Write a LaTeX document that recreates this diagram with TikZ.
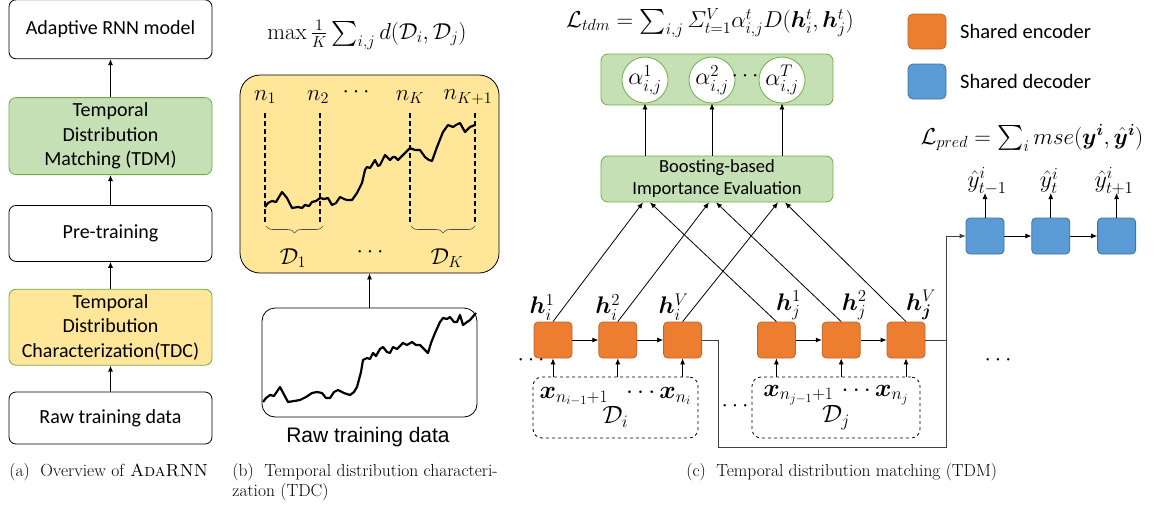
\RequirePackage{fix-cm}
\documentclass[tikz,border=0pt]{standalone}
\usepackage{amsmath,bm}
\usepackage{fontspec}
\newfontfamily\calfont{Carlito}
\newfontfamily\arfont{Liberation Sans}
\usetikzlibrary{arrows.meta,positioning,decorations.pathreplacing}
\definecolor{boxgreen}{HTML}{C5E0B4}
\definecolor{edgegreen}{HTML}{70AD47}
\definecolor{boxyellow}{HTML}{FFE699}
\definecolor{encfill}{HTML}{ED7D31}
\definecolor{encdraw}{HTML}{C0652A}
\definecolor{decfill}{HTML}{5B9BD5}
\definecolor{decdraw}{HTML}{41719C}
\tikzset{>={Latex[width=5pt,length=6pt]}}
\tikzset{every node/.style={font=\fontsize{23}{26}\selectfont}}
\tikzset{stage/.style={shape=rectangle, draw, fill=white, rounded corners=7pt,
    line width=.8pt, minimum width=203pt, align=center, inner sep=1pt,
    font=\calfont\fontsize{20}{24.5}\selectfont}}
\tikzset{gbox/.style={stage, fill=boxgreen, draw=edgegreen, minimum width=232pt,
    font=\calfont\fontsize{18.5}{22}\selectfont}}
\tikzset{anode/.style={shape=circle, draw=edgegreen, fill=white, line width=.8pt,
    minimum size=46pt, inner sep=0pt, font=\fontsize{24}{26}\selectfont}}
\tikzset{encbox/.style={shape=rectangle, draw=encdraw, fill=encfill, rounded corners=4pt,
    line width=.8pt, minimum width=38pt, minimum height=36pt, inner sep=0pt}}
\tikzset{decbox/.style={encbox, draw=decdraw, fill=decfill}}
\tikzset{hlab/.style={font=\fontsize{24}{26}\selectfont, inner sep=1pt}}
\tikzset{segbox/.style={shape=rectangle, draw, dashed, rounded corners=9pt, line width=.8pt,
    minimum height=61pt, align=center, inner sep=0pt, font=\fontsize{25}{21}\selectfont}}
\tikzset{series/.style={line width=2.2pt, line join=round}}
\tikzset{cut/.style={dashed, line width=1.1pt, dash pattern=on 5pt off 3pt}}
\tikzset{wire/.style={black!75, line width=.8pt}}
\tikzset{legtext/.style={font=\calfont\fontsize{20.5}{24}\selectfont, anchor=west}}
\tikzset{capt/.style={font=\rmfamily\fontsize{17.5}{20}\selectfont, anchor=west, inner sep=0pt}}

\begin{document}
\begin{tikzpicture}[x=1pt, y=-1pt, line width=.8pt]
    \useasboundingbox (0,0) rectangle (1158,512);
    % (a) overview
    \node[stage, minimum height=52pt] (raw1) at (110.5,418) {Raw training data};
    \node[stage, fill=boxyellow, draw=edgegreen, minimum height=76pt, above=26pt of raw1] (tdc1)
        {Temporal\\Distribution\\Characterization(TDC)};
    \node[stage, minimum height=56pt, above=27pt of tdc1] (pre1) {Pre-training};
    \node[stage, fill=boxgreen, draw=edgegreen, minimum height=77pt, above=30pt of pre1] (tdm1)
        {Temporal\\Distribution\\Matching (TDM)};
    \node[stage, minimum height=59pt, above=38pt of tdm1] (ada1) {Adaptive RNN model};
    \foreach \a/\b in {raw1/tdc1, tdc1/pre1, pre1/tdm1, tdm1/ada1}
        \draw[->] (\a) -- (\b);

    % (b) characterization
    \node[inner sep=0pt] (bform) at (367,35) {$\max\tfrac{1}{K}\textstyle\sum_{i,j} d(\mathcal{D}_i,\mathcal{D}_j)$};
    \node[draw, fill=boxyellow, rounded corners=20pt, minimum width=259pt, minimum height=198pt] (seg) at (369.5,174) {};
    \node[draw, fill=white, rounded corners=13pt, minimum width=215pt, minimum height=109pt] (rawb) at (369.5,362.5) {};
    \node[font=\arfont\fontsize{21}{24}\selectfont] (rawlab) at (368,437) {Raw training data};
    \draw[->] (rawb) -- (seg);
    \foreach \x/\lab/\dx in {265/n_1/0, 320/n_2/-2, 410/n_K/0, 475/n_{K+1}/-7} {
        \draw[cut] (\x,113) -- (\x,222);
        \node at (\x+\dx,97) {$\lab$};
    }
    \node (ndots) at (358,92) {$\cdots$};
    \draw[series] plot coordinates {(265,207) (268,203) (272,201) (276,202) (282,192) (287,198) (292,208)
        (298,207) (302,208) (305,205) (309,206) (312,202) (316,201) (320,198) (324,199) (328,198) (332,205)
        (336,203) (340,197) (344,199) (347,200) (352,200) (357,193) (362,183) (365,170) (367,167) (370,168)
        (372,165) (375,160) (378,166) (380,165) (385,155) (388,158) (390,160) (393,157) (395,157)
        (398,160) (403,155) (406,152) (410,148) (415,150) (420,150) (425,157) (429,160) (432,161) (437,147)
        (443,132) (448,125) (453,127) (456,125) (460,123) (465,132) (470,127) (475,125)};
    \draw[series] plot coordinates {(263,402) (266,398) (270,395) (274,396) (280,387) (288,402) (294,401)
        (300,400) (306,397) (312,393) (317,392) (322,393) (326,398) (330,398) (334,392) (338,390) (344,393)
        (350,395) (354,392) (357,387) (361,372) (363,360) (367,358) (370,359) (373,353) (376,356)
        (380,349) (383,347) (387,352) (390,353) (393,347) (397,349) (403,343) (407,345) (412,342)
        (416,345) (420,345) (424,349) (428,353) (431,343) (435,333) (440,322) (443,318) (447,319)
        (450,317) (454,322) (457,322) (460,315) (463,325) (467,322) (470,320) (476,313)};
    \draw[decorate, decoration={brace, mirror, amplitude=7pt}, black!70, line width=.6pt] (266,226) -- (323,226);
    \draw[decorate, decoration={brace, mirror, amplitude=7pt}, black!70, line width=.6pt] (411,226) -- (475,226);
    \node (d1lab) at (293,258) {$\mathcal{D}_1$};
    \node (ddots) at (372,252) {$\cdots$};
    \node (dklab) at (447,258) {$\mathcal{D}_K$};

    % (c) matching
    \node[inner sep=0pt] (tdmform) at (710,23) {$\mathcal{L}_{tdm}=\textstyle\sum_{i,j}\varSigma_{t=1}^{V}\alpha_{i,j}^{t}D(\bm{h}_i^t,\bm{h}_j^t)$};
    \node[gbox, minimum height=51pt] (alph) at (717,79.5) {};
    \node[anode] (al1) at (645,80) {$\alpha_{i,j}^1$};
    \node[anode] (al2) at (712,80) {$\alpha_{i,j}^2$};
    \node[anode] (al3) at (782,80) {$\alpha_{i,j}^T$};
    \node (adots) at (747,76) {$\cdots$};
    \node[gbox, minimum height=46pt] (boost) at (717,179) {Boosting-based\\Importance Evaluation};
    \foreach \c in {al1,al2,al3}
        \draw[->] (\c |- boost.north) -- (\c);

    \node[encbox, label={[hlab,xshift=-11pt]above:$\bm{h}_i^1$}] (ei1) at (553,340) {};
    \node[encbox, right=26pt of ei1, label={[hlab,xshift=-10pt]above:$\bm{h}_i^2$}] (ei2) {};
    \node[encbox, right=26pt of ei2, label={[hlab,xshift=-9pt]above:$\bm{h}_i^V$}] (ei3) {};
    \node[encbox, right=55pt of ei3, label={[hlab,xshift=12pt]above:$\bm{h}_j^1$}] (ej1) {};
    \node[encbox, right=26pt of ej1, label={[hlab,xshift=13pt]above:$\bm{h}_j^2$}] (ej2) {};
    \node[encbox, right=26pt of ej2, label={[hlab,xshift=15pt]above:$\bm{h}_{\bm{j}}^V$}] (ej3) {};
    \foreach \a/\b in {ei1/ei2, ei2/ei3, ej1/ej2, ej2/ej3}
        \draw[->] (\a) -- (\b);

    \coordinate (bi1) at ([xshift=-74pt]boost.south);
    \coordinate (bj1) at ([xshift=-67pt]boost.south);
    \coordinate (bi2) at ([xshift=-8pt]boost.south);
    \coordinate (bj2) at ([xshift=-1pt]boost.south);
    \coordinate (bi3) at ([xshift=61pt]boost.south);
    \coordinate (bj3) at ([xshift=68pt]boost.south);
    \foreach \e/\b in {ei1/bi1, ei2/bi2, ei3/bi3, ej1/bj1, ej2/bj2, ej3/bj3}
        \draw[->] (\e.north) -- (\b);

    \node[segbox, minimum width=165pt] (di) at (615.5,407.5)
        {$\bm{x}_{n_{i-1}+1}\;\;\cdots\bm{x}_{n_i}$\\$\mathcal{D}_i$};
    \node[segbox, minimum width=168pt] (dj) at (836,407.5)
        {$\bm{x}_{n_{j-1}+1}\,\cdots\bm{x}_{n_j}$\\$\mathcal{D}_j$};
    \foreach \e in {ei1,ei2,ei3}
        \draw[->] (\e |- di.north) -- (\e);
    \foreach \e in {ej1,ej2,ej3}
        \draw[->] (\e |- dj.north) -- (\e);
    \node (ldots) at (533,360) {$\cdots$};
    \node (mdots) at (737,406) {$\cdots$};
    \node (rdots) at (1000,360) {$\cdots$};

    \node[decbox] (de1) at (985,236) {};
    \node[decbox, right=27pt of de1] (de2) {};
    \node[decbox, right=27pt of de2] (de3) {};
    \foreach \a/\b in {de1/de2, de2/de3}
        \draw[->] (\a) -- (\b);
    \node[hlab] (y1) at (987,181) {$\hat{y}_{t-1}^i$};
    \node[hlab] (y2) at (1049,181) {$\hat{y}_{t}^i$};
    \node[hlab] (y3) at (1114,181) {$\hat{y}_{t+1}^i$};
    \foreach \d/\y in {de1/y1, de2/y2, de3/y3}
        \draw[->] (\d.north) -- (\d.north |- 0,193);
    \node[inner sep=0pt] (predform) at (1032,138) {$\mathcal{L}_{pred}=\textstyle\sum_i mse(\bm{y}^{\bm{i}},\hat{\bm{y}}^{\bm{i}})$};

    \coordinate (w1) at (718,447);
    \coordinate (w2) at (946,447);
    \draw[wire, ->] (ei3.east) -| (w1) -- (w2) |- (de1.west);
    \draw[wire] (ej3.east) -- (ej3.east -| w2);

    % legend
    \node[encbox, minimum height=35pt, rounded corners=5pt] (legenc) at (927,31.5) {};
    \node[legtext, right=10pt of legenc] (legenct) {Shared encoder};
    \node[decbox, minimum height=35pt, rounded corners=5pt] (legdec) at (927,81.5) {};
    \node[legtext, right=10pt of legdec] (legdect) {Shared decoder};

    % captions
    \node[capt] (capa) at (9,472) {(a)~~Overview of \textsc{AdaRNN}};
    \node[capt, anchor=north west, align=left] (capb) at (232,463) {(b)~~Temporal distribution characteri-\\zation (TDC)};
    \node[capt] (capc) at (686,472) {(c)~~Temporal distribution matching (TDM)};
\end{tikzpicture}
\end{document}
